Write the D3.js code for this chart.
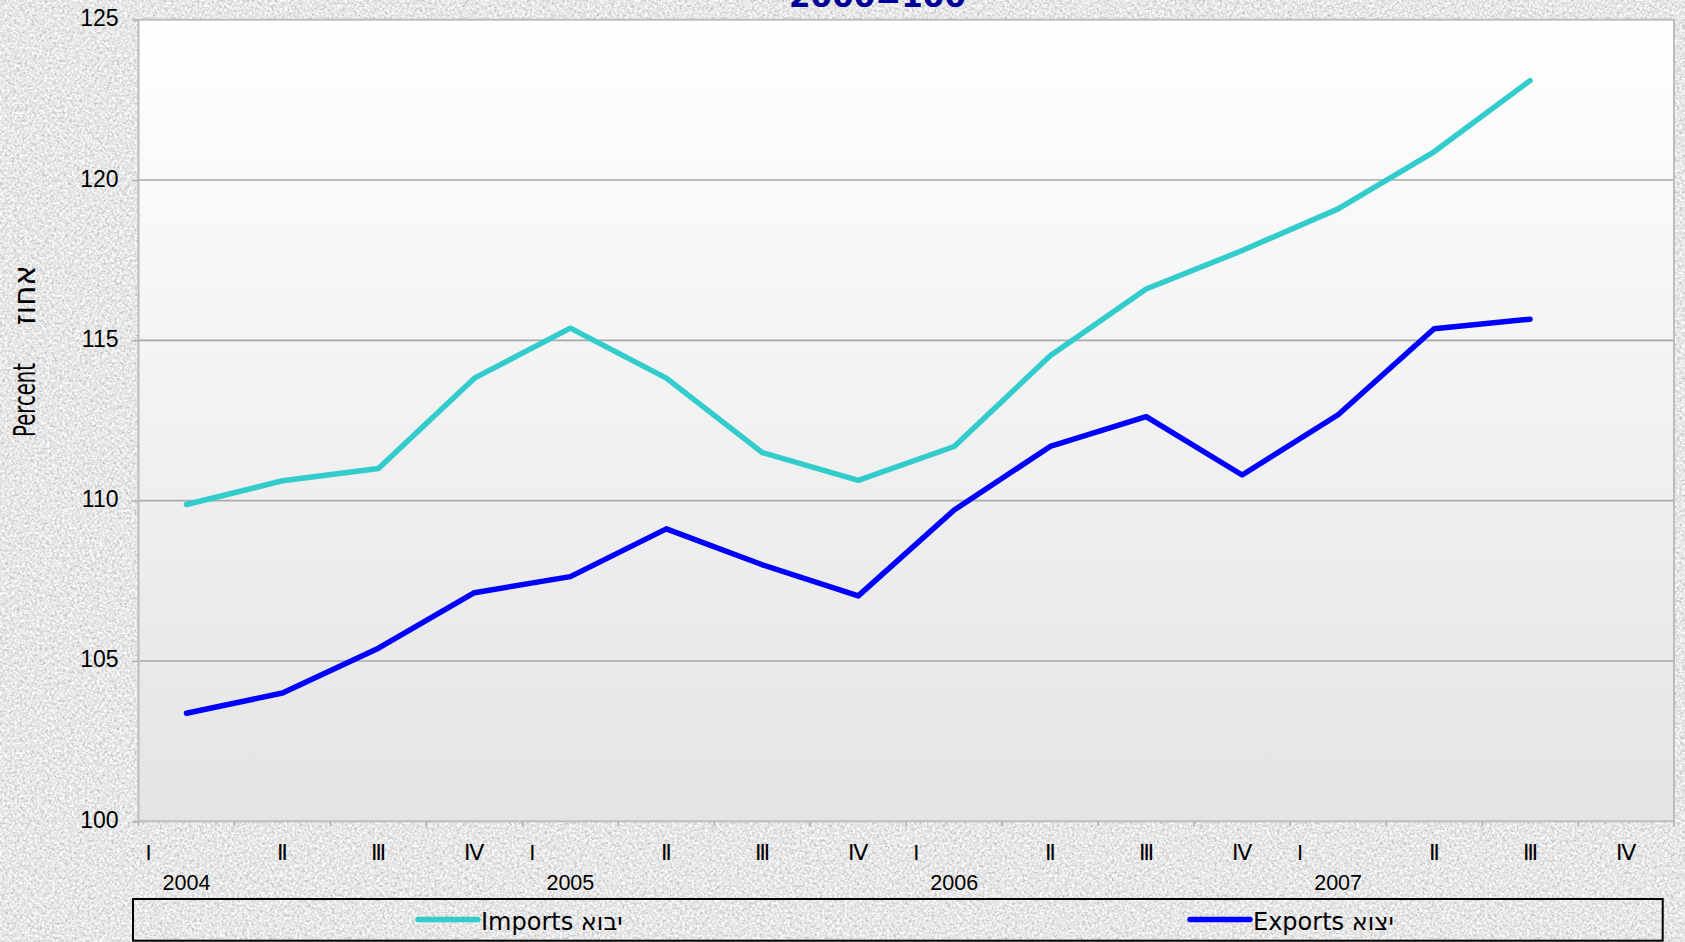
<!DOCTYPE html>
<html>
<head>
<meta charset="utf-8">
<script src="https://cdn.jsdelivr.net/npm/d3@7"></script>
<style>
  body { margin: 0; overflow: hidden; }
  svg { display: block; }
</style>
</head>
<body>
<div id="chart"></div>
<script>
// data (index, 2000=100)
var years = ["2004", "2005", "2006", "2007"];
var quarterNames = ["I", "Ⅱ", "Ⅲ", "Ⅳ"];
var importsValues = [109.88, 110.62, 111.0, 113.82, 115.38, 113.82, 111.5, 110.63,
                     111.69, 114.52, 116.6, 117.8, 119.1, 120.88, 123.1];
var exportsValues = [103.37, 104.0, 105.4, 107.13, 107.63, 109.12, 108.0, 107.03,
                     109.71, 111.69, 112.62, 110.8, 112.68, 115.36, 115.66];
var yTicks = [100, 105, 110, 115, 120, 125];

var width = 1685;
var height = 942;
var plot = { left: 138.5, right: 1674, top: 19.7, bottom: 821.3 };

var categories = [];
years.forEach(function(yr) {
  quarterNames.forEach(function(q) { categories.push(yr + "-" + q); });
});

var svg = d3.select("#chart")
  .append("svg")
  .attr("width", width)
  .attr("height", height)
  .attr("viewBox", `0 0 ${width} ${height}`);

var defs = svg.append("defs");

// granite-like page texture: dark specks + light specks
function grainFilter(id, seed, freq, gray, k, b) {
  var f = defs.append("filter").attr("id", id)
    .attr("x", 0).attr("y", 0).attr("width", "100%").attr("height", "100%");
  f.append("feTurbulence")
    .attr("type", "fractalNoise")
    .attr("baseFrequency", freq)
    .attr("numOctaves", 4)
    .attr("seed", seed);
  f.append("feColorMatrix")
    .attr("type", "matrix")
    .attr("values", `0 0 0 0 ${gray}  0 0 0 0 ${gray}  0 0 0 0 ${gray}  ${k} 0 0 0 ${b}`);
}
grainFilter("grainDark", 7, 0.35, 0.55, 3.2, -1.45);
grainFilter("grainLight", 21, 0.4, 1.0, 3.0, -1.25);

var plotGrad = defs.append("linearGradient").attr("id", "plotBg")
  .attr("x1", 0).attr("y1", 0).attr("x2", 0).attr("y2", 1);
plotGrad.append("stop").attr("offset", "0%").attr("stop-color", "#ffffff");
plotGrad.append("stop").attr("offset", "100%").attr("stop-color", "#e4e4e4");

svg.append("rect").attr("width", width).attr("height", height).attr("fill", "#e3e3e3");
svg.append("rect").attr("width", width).attr("height", height).attr("filter", "url(#grainDark)");
svg.append("rect").attr("width", width).attr("height", height).attr("filter", "url(#grainLight)");

var x = d3.scaleBand()
  .domain(categories)
  .range([plot.left, plot.right])
  .padding(0);

var y = d3.scaleLinear()
  .domain([100, 125])
  .range([plot.bottom, plot.top]);

// plot area
svg.append("rect")
  .attr("x", plot.left)
  .attr("y", plot.top)
  .attr("width", plot.right - plot.left)
  .attr("height", plot.bottom - plot.top)
  .attr("fill", "url(#plotBg)");

// gridlines
svg.append("g")
  .selectAll("line")
  .data(yTicks.filter(d => d > 100 && d < 125))
  .enter()
  .append("line")
  .attr("x1", plot.left)
  .attr("x2", plot.right)
  .attr("y1", d => y(d))
  .attr("y2", d => y(d))
  .attr("stroke", "#a9a9a9")
  .attr("stroke-width", 1.6);

svg.append("rect")
  .attr("x", plot.left)
  .attr("y", plot.top)
  .attr("width", plot.right - plot.left)
  .attr("height", plot.bottom - plot.top)
  .attr("fill", "none")
  .attr("stroke", "#bdbdbd")
  .attr("stroke-width", 2);

// y axis
var yAxis = svg.append("g")
  .attr("transform", `translate(${plot.left},0)`)
  .call(d3.axisLeft(y).tickValues(yTicks).tickSize(7).tickPadding(13).tickSizeOuter(0));
yAxis.select(".domain").remove();
yAxis.selectAll(".tick line").attr("stroke", "#b0b0b0").attr("stroke-width", 1.5);
yAxis.selectAll(".tick text")
  .attr("dy", "0.26em")
  .attr("fill", "#000")
  .style("font-family", "'Liberation Sans', Arial, sans-serif")
  .style("font-size", "23px");

// x axis: ticks sit on band edges
var xTickPos = categories.map(c => x(c)).concat([plot.right]);
svg.append("g")
  .selectAll("line")
  .data(xTickPos)
  .enter()
  .append("line")
  .attr("x1", d => d).attr("x2", d => d)
  .attr("y1", plot.bottom).attr("y2", plot.bottom + 5)
  .attr("stroke", "#b0b0b0")
  .attr("stroke-width", 1.5);

svg.append("g")
  .selectAll("text")
  .data(categories)
  .enter()
  .append("text")
  .attr("x", d => d.endsWith("-I") ? x(d) + 10 : x(d) + x.bandwidth() / 2)
  .attr("y", 860)
  .attr("text-anchor", "middle")
  .style("font-family", "'Liberation Sans', Arial, sans-serif")
  .style("font-size", "22px")
  .text(d => d.split("-")[1]);

svg.append("g")
  .selectAll("text")
  .data(years)
  .enter()
  .append("text")
  .attr("x", d => x(d + "-I") + x.bandwidth() / 2)
  .attr("y", 890)
  .attr("text-anchor", "middle")
  .style("font-family", "'Liberation Sans', Arial, sans-serif")
  .style("font-size", "21.5px")
  .text(d => d);

// y title
svg.append("text")
  .attr("transform", "translate(35,400) rotate(-90)")
  .attr("text-anchor", "middle")
  .attr("textLength", 74)
  .attr("lengthAdjust", "spacingAndGlyphs")
  .style("font-family", "'DejaVu Sans', Verdana, sans-serif")
  .style("font-size", "31px")
  .text("Percent");
svg.append("text")
  .attr("transform", "translate(35,295) rotate(-90)")
  .attr("text-anchor", "middle")
  .attr("textLength", 60)
  .attr("lengthAdjust", "spacingAndGlyphs")
  .style("font-family", "'DejaVu Sans', Verdana, sans-serif")
  .style("font-size", "31px")
  .text("אחוז");

// title (only its lower part shows in the frame)
svg.append("text")
  .attr("x", 877.5)
  .attr("y", 6.5)
  .attr("text-anchor", "middle")
  .attr("fill", "#000099")
  .style("font-family", "'DejaVu Sans', Verdana, sans-serif")
  .style("font-weight", "bold")
  .style("font-size", "31px")
  .text("2000=100");

// lines
var series = [
  { name: "Imports יבוא", values: importsValues, color: "#33cccc" },
  { name: "Exports יצוא", values: exportsValues, color: "#0000ff" }
];

var line = d3.line()
  .x((d, i) => x(categories[i]) + x.bandwidth() / 2)
  .y(d => y(d));

svg.append("g")
  .selectAll("path")
  .data(series)
  .enter()
  .append("path")
  .attr("d", d => line(d.values))
  .attr("fill", "none")
  .attr("stroke", d => d.color)
  .attr("stroke-width", 5.5)
  .attr("stroke-linejoin", "round")
  .attr("stroke-linecap", "round");

// legend
svg.append("rect")
  .attr("x", 133)
  .attr("y", 899)
  .attr("width", 1662.7 - 133)
  .attr("height", 41.7)
  .attr("fill", "none")
  .attr("stroke", "#000")
  .attr("stroke-width", 2);

var legendX = [418, 1190];
var legend = svg.append("g")
  .selectAll("g")
  .data(series)
  .enter()
  .append("g")
  .attr("transform", (d, i) => `translate(${legendX[i]},919.5)`);
legend.append("line")
  .attr("x1", 0).attr("x2", 60)
  .attr("stroke", d => d.color)
  .attr("stroke-width", 5.5)
  .attr("stroke-linecap", "round");
legend.append("text")
  .attr("x", 63)
  .attr("y", 10.5)
  .style("font-family", "'DejaVu Sans', Verdana, sans-serif")
  .style("font-size", "24px")
  .text(d => d.name);
</script>
</body>
</html>
